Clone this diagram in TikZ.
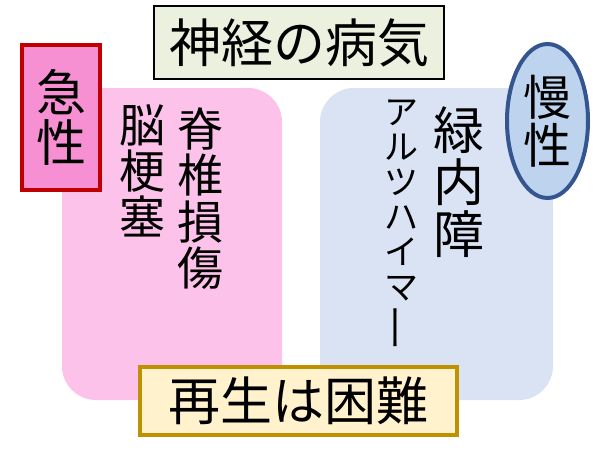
\documentclass[tikz,border=0pt]{standalone}
\usepackage{fontspec}
\usepackage{graphicx}
\setmainfont{Noto Sans CJK JP}
\usetikzlibrary{shapes.geometric}
\definecolor{titlefill}{HTML}{EBF1DE}
\definecolor{pinkpanel}{HTML}{FCC2EA}
\definecolor{bluepanel}{HTML}{DAE3F3}
\definecolor{acutefill}{HTML}{F690D2}
\definecolor{acuteline}{HTML}{C00000}
\definecolor{chronfill}{HTML}{BDD3EE}
\definecolor{chronline}{HTML}{34558F}
\definecolor{hardfill}{HTML}{FFF2CC}
\definecolor{hardline}{HTML}{BF9000}
\tikzset{
  panel/.style={rectangle, rounded corners=34pt, draw=none, inner sep=0pt},
  label/.style={rectangle, inner sep=0pt, align=center},
  vtext/.style={inner sep=0pt, align=center},
}
\newcommand{\vbar}{\rotatebox[origin=c]{90}{\scalebox{1.4}[1]{ー}}}
\begin{document}
\begin{tikzpicture}[x=1pt,y=-1pt]
\useasboundingbox (0,0) rectangle (600,450);
\fill[white] (0,0) rectangle (600,450);
% panels
\node[panel, fill=pinkpanel, minimum width=220, minimum height=312] (acutepanel) at (172,244) {};
\node[panel, fill=bluepanel, minimum width=233, minimum height=312] (chronpanel) at (436.5,244) {};
% title
\node[label, fill=titlefill, draw=black, line width=2pt, minimum width=290, minimum height=73,
      font=\fontsize{52}{56}\selectfont] (title) at (299,42.5) {神経の病気};
% acute label
\node[label, fill=acutefill, draw=acuteline, line width=4pt, minimum width=78, minimum height=145,
      font=\fontsize{50}{50}\selectfont] (acute) at (61,117.5) {急\\性};
% chronic label
\node[ellipse, inner sep=0pt, align=center, fill=chronfill, draw=chronline, line width=4pt,
      minimum width=81, minimum height=154, font=\fontsize{48}{48}\selectfont] (chronic) at (547.5,121) {慢\\性};
% vertical texts
\node[vtext, font=\fontsize{46}{46}\selectfont] (stroke) at (142,171) {脳\\梗\\塞};
\node[vtext, font=\fontsize{46}{46.5}\selectfont] (spinal) at (200,198.5) {脊\\椎\\損\\傷};
\node[vtext, font=\fontsize{51}{52}\selectfont] (glaucoma) at (459,182.5) {緑\\内\\障};
\node[vtext, font=\fontsize{34}{35}\selectfont] (alz) at (401,225.5) {ア\\ル\\ツ\\ハ\\イ\\マ\\\vbar};
% bottom
\node[label, fill=hardfill, draw=hardline, line width=3.5pt, minimum width=317, minimum height=68,
      font=\fontsize{52}{56}\selectfont] (hard) at (298.5,401) {再生は困難};
\end{tikzpicture}
\end{document}
